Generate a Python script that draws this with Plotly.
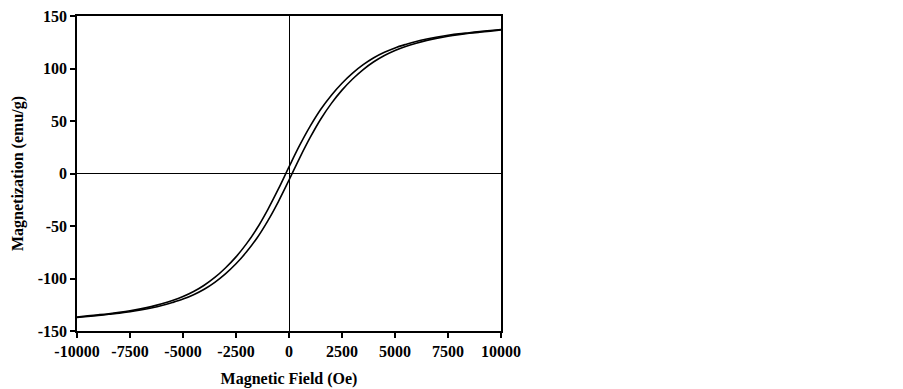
import plotly.graph_objects as go

field = list(range(-10000, 10001, 500))

# descending branch (upper)
m_upper = [-136.6, -135.6, -134.6, -133.5, -132.2, -130.7, -128.9, -126.8, -124.1, -121.0,
           -117.2, -112.4, -106.4, -99.0, -90.0, -79.4, -66.8, -51.9, -34.3, -14.7,
           6.3,
           26.7, 45.1, 61.2, 74.6, 86.0, 95.6, 103.6, 110.2, 115.4, 119.6,
           122.9, 125.8, 128.1, 130.0, 131.6, 133.0, 134.1, 135.2, 136.2, 137.1]

# ascending branch (lower)
m_lower = [-137.1, -136.2, -135.2, -134.1, -133.0, -131.6, -130.0, -128.1, -125.8, -122.9,
           -119.6, -115.4, -110.2, -103.6, -95.6, -86.0, -74.6, -61.2, -45.1, -26.7,
           -6.3,
           14.7, 34.3, 51.9, 66.8, 79.4, 90.0, 99.0, 106.4, 112.4, 117.2,
           121.0, 124.1, 126.8, 128.9, 130.7, 132.2, 133.5, 134.6, 135.6, 136.6]

x_ticks = [-10000, -7500, -5000, -2500, 0, 2500, 5000, 7500, 10000]
y_ticks = [-150, -100, -50, 0, 50, 100, 150]

FAM = "Liberation Serif, Times New Roman, serif"

fig = go.Figure()
for m in (m_upper, m_lower):
    fig.add_trace(go.Scatter(x=field, y=m, mode="lines",
                             line=dict(color="black", width=1.6, shape="spline", smoothing=1.0),
                             showlegend=False, hoverinfo="skip"))

axis_common = dict(
    showline=True, linecolor="black", linewidth=1.5, mirror=True,
    ticks="outside", ticklen=5, tickwidth=1.5, tickcolor="black",
    showgrid=False, zeroline=True, zerolinecolor="black", zerolinewidth=1.2,
    tickfont=dict(size=16, family=FAM, color="black", weight="bold"),
    minor=dict(ticks="outside", ticklen=3, tickwidth=1.2, tickcolor="black", nticks=2),
    automargin=False, ticklabeloverflow="allow",
)

fig.update_xaxes(range=[-10000, 10000], tickvals=x_ticks,
                 ticktext=[str(v) for v in x_ticks],
                 title=dict(text="Magnetic Field (Oe)",
                            font=dict(size=16, family=FAM, color="black", weight="bold"),
                            standoff=14),
                 **axis_common)
fig.update_yaxes(range=[-150, 150], tickvals=y_ticks,
                 ticktext=[str(v) for v in y_ticks],
                 title=dict(text="Magnetization (emu/g)",
                            font=dict(size=16, family=FAM, color="black", weight="bold"),
                            standoff=10),
                 **axis_common)

# page body has an 8px margin: figure origin sits at (8, 8)
fig.update_layout(
    width=880, height=381,
    margin=dict(l=69, r=880 - 493, t=8, b=381 - 323),
    plot_bgcolor="white", paper_bgcolor="white",
    font=dict(size=16, family=FAM, color="black"),
)

fig.write_html("out.html")
